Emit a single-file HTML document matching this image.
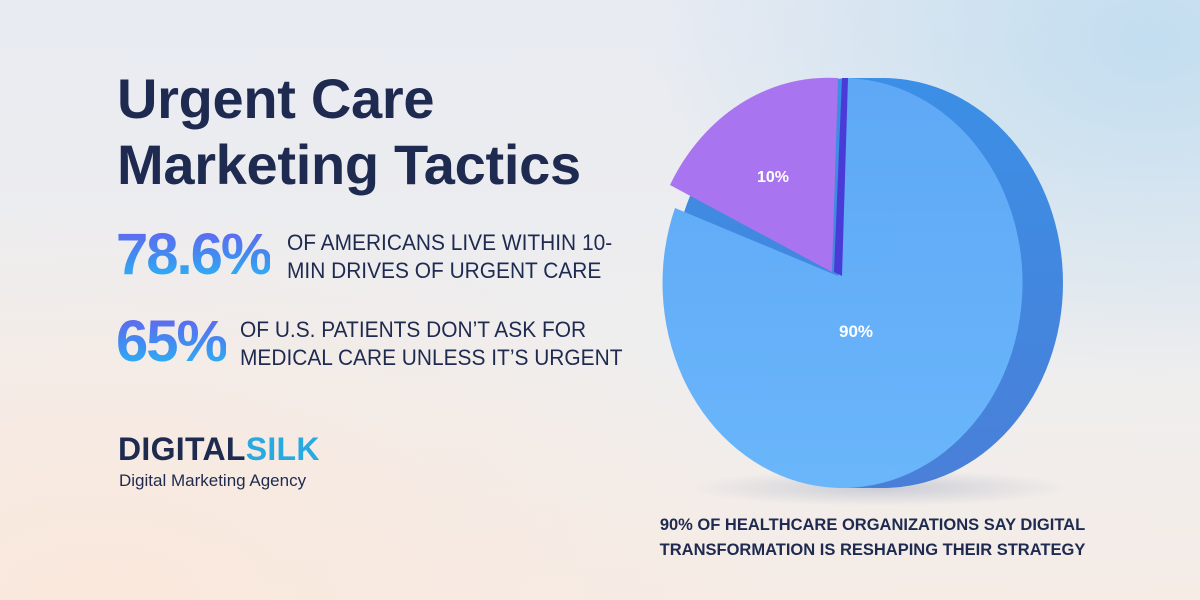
<!DOCTYPE html>
<html><head><meta charset="utf-8"><style>
html,body{margin:0;padding:0}
body{width:1200px;height:600px;overflow:hidden;position:relative;font-family:"Liberation Sans",sans-serif;
background:
radial-gradient(ellipse 500px 350px at 1150px 40px,rgba(190,220,240,.9),rgba(190,220,240,0)),
radial-gradient(ellipse 700px 400px at 100px 600px,rgba(250,232,220,1),rgba(250,232,220,0)),
linear-gradient(180deg,#e8ebf2,#efeeee 60%,#f5ece6);}
.t{position:absolute;color:#1e2a50;font-weight:bold;white-space:nowrap}
.g{background:linear-gradient(180deg,#6a5cf0 0%,#3f8ff0 55%,#27c0f5 100%);-webkit-background-clip:text;background-clip:text;color:transparent}
.s{transform-origin:0 0;transform:scaleX(0.95);font-weight:normal}
</style></head><body>
<div class="t" style="left:117px;top:66px;font-size:56px;line-height:66px;letter-spacing:-0.3px">Urgent Care<br>Marketing Tactics</div>
<div class="t g" style="left:116px;top:222px;font-size:58px;line-height:66px;letter-spacing:-2px">78.6%</div>
<div class="t s" style="left:287px;top:229px;font-size:22px;line-height:28px">OF AMERICANS LIVE WITHIN 10-<br>MIN DRIVES OF URGENT CARE</div>
<div class="t g" style="left:116px;top:309px;font-size:58px;line-height:66px;letter-spacing:-2px">65%</div>
<div class="t s" style="left:240px;top:316px;font-size:22px;line-height:28px">OF U.S. PATIENTS DON’T ASK FOR<br>MEDICAL CARE UNLESS IT’S URGENT</div>
<div class="t" style="left:118px;top:432px;font-size:32px;line-height:34px;letter-spacing:0.3px">DIGITAL<span style="color:#28a9e0">SILK</span></div>
<div class="t" style="left:119px;top:471px;font-size:17px;font-weight:normal;color:#1e2a50">Digital Marketing Agency</div>
<div class="t" style="left:650px;top:513px;font-size:16.5px;line-height:25px;text-align:center;width:445px">90% OF HEALTHCARE ORGANIZATIONS SAY DIGITAL<br>TRANSFORMATION IS RESHAPING THEIR STRATEGY</div>
<svg style="position:absolute;left:0;top:0" width="1200" height="600">
<defs>
<linearGradient id="side" x1="0" y1="0" x2="0" y2="1"><stop offset="0" stop-color="#3b8fe6"/><stop offset="1" stop-color="#4a7fd8"/></linearGradient>
<linearGradient id="face" x1="0" y1="0" x2="0" y2="1"><stop offset="0" stop-color="#5ea8f5"/><stop offset="1" stop-color="#6ab6fb"/></linearGradient>
<radialGradient id="sh" cx="0.5" cy="0.5" r="0.5"><stop offset="0" stop-color="#8090b0" stop-opacity=".35"/><stop offset="1" stop-color="#8090b0" stop-opacity="0"/></radialGradient>
</defs>
<ellipse cx="880" cy="488" rx="190" ry="18" fill="url(#sh)"/>
<g fill="url(#side)">
<ellipse cx="883" cy="283" rx="180" ry="205"/><ellipse cx="873" cy="283" rx="180" ry="205"/>
<ellipse cx="863" cy="283" rx="180" ry="205"/><ellipse cx="853" cy="283" rx="180" ry="205"/>
</g>
<path d="M838 276 L843 78 A180 205 0 1 1 675 208 Z" fill="url(#face)"/>
<path d="M834 272 L842 78 L848 78 L842 276 Z" fill="#4a3ad8"/>
<path d="M832 272 L838 78 A180 205 0 0 0 670 185 Z" fill="#a874ef"/>
<text x="773" y="182" fill="#fff" font-size="16" font-weight="bold" text-anchor="middle" font-family="Liberation Sans,sans-serif">10%</text>
<text x="856" y="337" fill="#fff" font-size="17" font-weight="bold" text-anchor="middle" font-family="Liberation Sans,sans-serif">90%</text>
</svg>
</body></html>
